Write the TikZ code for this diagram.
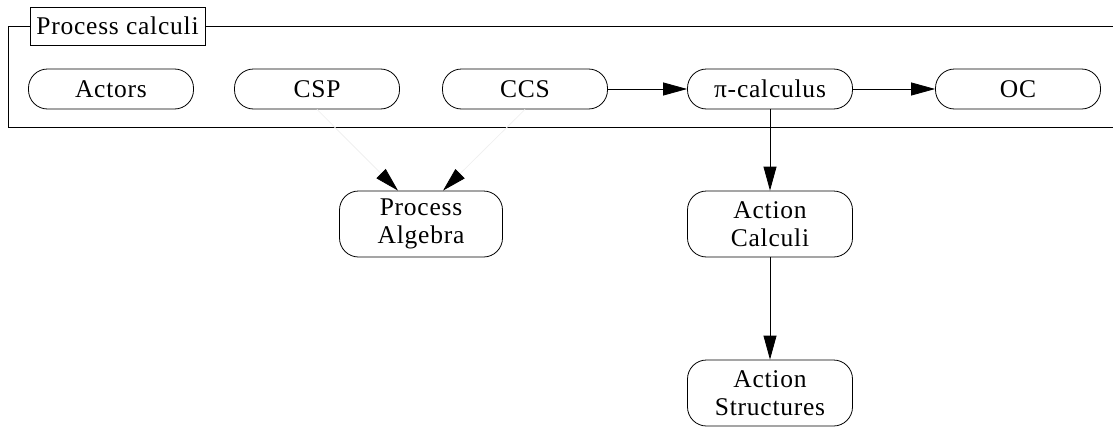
\documentclass[tikz,border=0pt]{standalone}
\usepackage{fontspec}
\setmainfont{Liberation Serif}[LetterSpace=3]
\usetikzlibrary{arrows.meta, positioning}

\begin{document}
\begin{tikzpicture}[
      x=1pt, y=-1pt,
      font=\fontsize{25.5}{28}\selectfont,
      every path/.style={line width=0.8pt},
      calc/.style={rectangle, draw, rounded corners=19pt, minimum width=165pt, minimum height=40pt, inner sep=0pt, align=center},
      tallcalc/.style={calc, minimum width=163pt, minimum height=66pt},
      title/.style={rectangle, draw, fill=white, minimum width=175pt, minimum height=38pt, inner sep=0pt},
      arrow/.style={-{Triangle[length=24pt, width=13pt]}},
      faint/.style={-{Triangle[length=24pt, width=13pt, color=black]}, draw=black!6}
    ]
    \useasboundingbox (0,0) rectangle (1113,431);

    % frame of the group, open on the right
    \draw (1113,26) -- (8,26) -- (8,127) -- (1113,127);
    \node[title] (grp) at (117.5,26) {Process calculi};

    \node[calc] (actors) at (111,89) {Actors};
    \node[calc] (csp) at (317,89) {CSP};
    \node[calc] (ccs) at (525,89) {CCS};
    \node[calc] (pi) at (770,89) {π-calculus};
    \node[calc] (oc) at (1018,89) {OC};

    \node[tallcalc] (pa) at (421,224) {Process\\Algebra};
    \node[tallcalc, minimum width=165pt] (acalc) at (770,224) {Action\\Calculi};
    \node[tallcalc, minimum width=165pt] (astruct) at (770,393) {Action\\Structures};

    \draw[arrow] (ccs) -- (pi);
    \draw[arrow] (pi) -- (oc);
    \draw[arrow] (pi) -- (acalc);
    \draw[arrow] (acalc) -- (astruct);
    \draw[faint] (csp.south) -- ([xshift=-23pt]pa.north);
    \draw[faint] (ccs.south) -- ([xshift=22pt]pa.north);
  \end{tikzpicture}
\end{document}
